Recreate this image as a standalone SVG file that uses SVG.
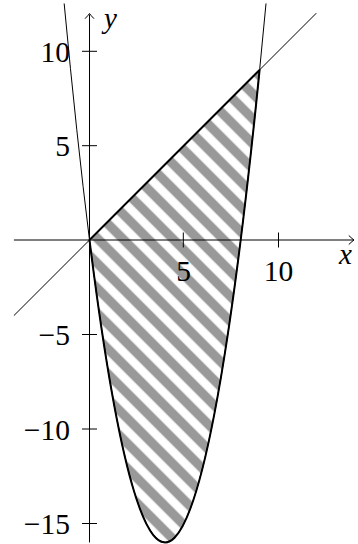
<svg xmlns="http://www.w3.org/2000/svg" width="358" height="544" viewBox="0 0 358 544">
<style>
  .thin { fill: none; stroke: #000; stroke-width: 1; }
  .thick { fill: none; stroke: #000; stroke-width: 2; stroke-linejoin: round; }
  .num { font-family: "Liberation Serif", "Times New Roman", serif; font-size: 29.5px; fill: #000; }
  .var { font-family: "Liberation Serif", "Times New Roman", serif; font-size: 29px; font-style: italic; fill: #000; }
</style>
<defs>
  <pattern id="hatch" patternUnits="userSpaceOnUse" width="17.68" height="17.68" patternTransform="rotate(45)">
    <rect x="0" y="6.6" width="17.68" height="9.4" fill="#999999"/>
  </pattern>
</defs>
<rect width="358" height="544" fill="#fff"/>
<g id="region">
  <path d="M89.5 240 Q174.55 920.4 259.6 69.9 Z" fill="url(#hatch)"/>
</g>
<g id="axes">
  <line class="thin" x1="13.9" y1="240" x2="353.5" y2="240"/>
  <path class="thin" d="M348.8 235.5 Q352.5 239 354 240 Q352.5 241 348.8 244.5"/>
  <line class="thin" x1="89.5" y1="542.4" x2="89.5" y2="14.5"/>
  <path class="thin" d="M85 18.7 Q88.5 15 89.5 13.5 Q90.5 15 94 18.7"/>
  <g id="ticks">
    <line class="thin" x1="183.3" y1="232.5" x2="183.3" y2="247.5"/>
    <line class="thin" x1="278.5" y1="232.5" x2="278.5" y2="247.5"/>
    <line class="thin" x1="82" y1="51.3" x2="97" y2="51.3"/>
    <line class="thin" x1="82" y1="145.7" x2="97" y2="145.7"/>
    <line class="thin" x1="82" y1="334.5" x2="97" y2="334.5"/>
    <line class="thin" x1="82" y1="429" x2="97" y2="429"/>
    <line class="thin" x1="82" y1="523.5" x2="97" y2="523.5"/>
  </g>
</g>
<g id="curves">
  <line id="line-yx" class="thin" x1="13.9" y1="315.6" x2="316.3" y2="13.2"/>
  <path id="parabola" class="thin" d="M64.17 3.46 Q165.1 1081.35 266.03 3.46"/>
  <path id="boundary" class="thick" d="M89.5 240 Q174.55 920.4 259.6 69.9 Z"/>
</g>
<g id="labels">
  <text class="var" x="104" y="28">y</text>
  <text class="var" x="345.5" y="263.5" text-anchor="middle">x</text>
  <text class="num" x="183.5" y="281" text-anchor="middle">5</text>
  <text class="num" x="278.5" y="281" text-anchor="middle">10</text>
  <text class="num" x="70" y="62" text-anchor="end">10</text>
  <text class="num" x="70" y="156.4" text-anchor="end">5</text>
  <text class="num" x="70" y="345.2" text-anchor="end">−5</text>
  <text class="num" x="70" y="439.7" text-anchor="end">−10</text>
  <text class="num" x="70" y="534.2" text-anchor="end">−15</text>
</g>
</svg>
